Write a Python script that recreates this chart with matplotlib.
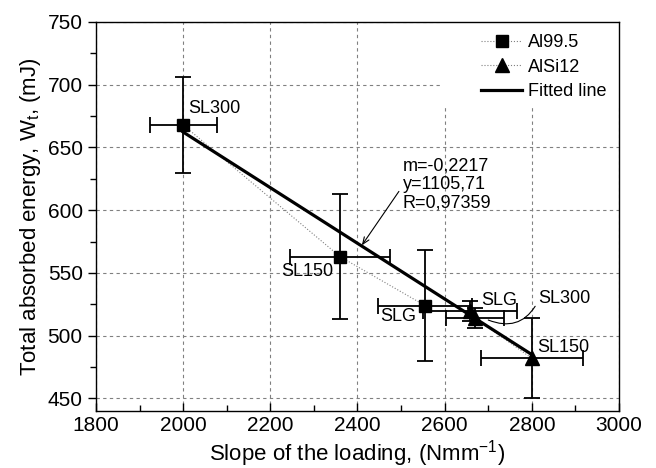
"""
Total absorbed energy vs slope of the loading
"""

import numpy as np
import matplotlib.pyplot as plt
from matplotlib.lines import Line2D
from matplotlib.patches import Rectangle

plt.rcParams["font.family"] = ["Liberation Sans", "DejaVu Sans"]
plt.rcParams["mathtext.fontset"] = "custom"
plt.rcParams["mathtext.rm"] = "Liberation Sans"
plt.rcParams["mathtext.it"] = "Liberation Sans"

# Al99.5 (squares)
al_labels = ["SL300", "SL150", "SLG"]
al_x = [2000, 2360, 2555]
al_y = [668, 563, 524]
al_xerr = [77, 115, 107]
al_yerr = [38, 50, 44]

# AlSi12 (triangles)
alsi_labels = ["SLG", "SL300", "SL150"]
alsi_x = [2658, 2670, 2800]
alsi_y = [520, 514, 482]
alsi_xerr = [107, 67, 117]
alsi_yerr = [8, 8, 32]

# fitted line
fit_m = -0.2217
fit_b = 1105.71
fit_r = 0.97359
fit_x = np.array([2000, 2800])

fig = plt.figure(figsize=(6.56, 4.68), dpi=100)
ax = fig.add_axes([0.1463, 0.1218, 0.7973, 0.8312])

ax.plot(al_x, al_y, ":", color="gray", lw=0.8, zorder=2)
ax.plot(alsi_x, alsi_y, ":", color="gray", lw=0.8, zorder=2)

ax.errorbar(al_x, al_y, xerr=al_xerr, yerr=al_yerr, fmt="s", color="black",
            ms=8, elinewidth=1.3, capsize=5.5, capthick=1.3, zorder=3)
ax.errorbar(alsi_x, alsi_y, xerr=alsi_xerr, yerr=alsi_yerr, fmt="^", color="black",
            ms=10, elinewidth=1.3, capsize=5.5, capthick=1.3, zorder=3)

ax.plot(fit_x, fit_m * fit_x + fit_b, "k-", lw=2.3, zorder=4)

# point labels
fs = 13
ax.text(2011, 681, al_labels[0], fontsize=fs, va="center", ha="left")
ax.text(2345, 551, al_labels[1], fontsize=fs, va="center", ha="right")
ax.text(2534, 515, al_labels[2], fontsize=fs, va="center", ha="right")
ax.text(2683, 528, alsi_labels[0], fontsize=fs, va="center", ha="left")
ax.annotate(alsi_labels[1], xy=(2700, 512.5), xytext=(2814, 530), fontsize=fs,
            va="center", ha="left",
            arrowprops=dict(arrowstyle="-", lw=0.8, color="black",
                            connectionstyle="arc3,rad=-0.45",
                            shrinkA=0, shrinkB=0, relpos=(0, 0.3)))
ax.text(2812, 491, alsi_labels[2], fontsize=fs, va="center", ha="left")

# fit annotation
ax.text(2504, 642, f"m={fit_m}\ny={fit_b}\nR={fit_r}".replace(".", ","),
        fontsize=fs, va="top", ha="left", linespacing=1.13)
ax.annotate("", xy=(2410, 572), xytext=(2495, 615),
            arrowprops=dict(arrowstyle="->,head_length=0.5,head_width=0.2",
                            lw=0.8, color="black", shrinkA=0, shrinkB=0))

ax.set_xlim(1800, 3000)
ax.set_ylim(440, 750)
ax.set_xticks(np.arange(1800, 3001, 200))
ax.set_xticks(np.arange(1900, 3000, 200), minor=True)
ax.set_yticks(np.arange(450, 751, 50))
ax.set_yticks(np.arange(475, 750, 50), minor=True)
ax.tick_params(axis="x", which="major", direction="in", length=6, width=1, labelsize=15)
ax.tick_params(axis="x", which="minor", direction="in", length=4, width=1)
ax.tick_params(axis="y", which="major", direction="out", length=6, width=1, labelsize=15)
ax.tick_params(axis="y", which="minor", direction="out", length=4, width=1)
for s in ax.spines.values():
    s.set_linewidth(1.0)

ax.grid(which="major", color="gray", linestyle=(0, (3, 3)), linewidth=0.8)
ax.set_axisbelow(True)

ax.set_xlabel("Slope of the loading, (Nmm$^{-1}$)", fontsize=16, labelpad=2)
ax.set_ylabel("Total absorbed energy, W$_t$, (mJ)", fontsize=16, labelpad=3)

# white area behind the legend
ax.add_patch(Rectangle((0.6635, 0.784), 0.3365, 0.216, transform=ax.transAxes,
                       facecolor="white", edgecolor="none", zorder=1))

handles = [
    Line2D([], [], ls=":", color="gray", lw=0.8, marker="s", ms=8,
           markerfacecolor="black", markeredgecolor="black"),
    Line2D([], [], ls=":", color="gray", lw=0.8, marker="^", ms=10,
           markerfacecolor="black", markeredgecolor="black"),
    Line2D([], [], ls="-", color="black", lw=2.3),
]
leg = ax.legend(handles, ["Al99.5", "AlSi12", "Fitted line"], loc="upper left",
                bbox_to_anchor=(0.736, 0.968), fontsize=13, frameon=False,
                handlelength=2.3, borderaxespad=0, borderpad=0,
                labelspacing=0.4, handletextpad=0.3)
leg.set_zorder(5)

fig.savefig("out.png", dpi=100)
